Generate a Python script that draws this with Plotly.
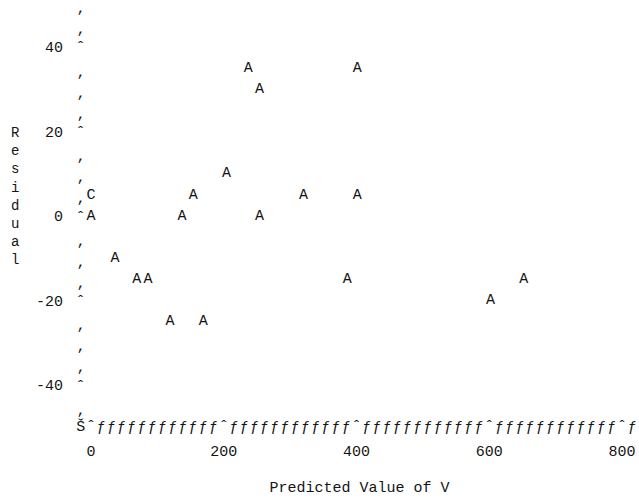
import plotly.graph_objects as go

# ---- data ----
predicted = [0, 0, 36, 69, 86, 119, 169, 137, 154, 204, 237, 254, 254, 320, 401, 401, 386, 602, 652]
residual = [5, 0, -10, -15, -15, -25, -25, 0, 5, 10, 35, 30, 0, 5, 35, 5, -15, -20, -15]
symbol = ["C", "A", "A", "A", "A", "A", "A", "A", "A", "A", "A", "A", "A", "A", "A", "A", "A", "A", "A"]

x_ticks = [0, 200, 400, 600, 800]
y_ticks = [-40, -20, 0, 20, 40]
x_title = "Predicted Value of V"
y_title = "Residual"

FONT = "Liberation Mono"
INK = "#141414"

# line-printer axis geometry (13 print columns per 200 units, 4 rows per 20 units)
col_w = (x_ticks[1] - x_ticks[0]) / 13.0
row_h = (y_ticks[1] - y_ticks[0]) / 4.0
y_lo = y_ticks[0] - 2 * row_h
y_hi = y_ticks[-1] + 2 * row_h
ncols = int(round((x_ticks[-1] - x_ticks[0]) / col_w)) + 1
x_axis_pos = x_ticks[0] - col_w

# vertical axis characters (as annotations so the low comma glyph can sit on its baseline)
annotations = []
k = 1
while y_lo + k * row_h <= y_hi + 1e-9:
    yy = y_lo + k * row_h
    is_tick = any(abs(yy - t) < 1e-6 for t in y_ticks)
    annotations.append(dict(x=x_axis_pos, y=yy, xref="x", yref="y", showarrow=False,
                            text="ˆ" if is_tick else "‚", xanchor="center", yanchor="middle",
                            yshift=-2 if is_tick else -4,
                            font=dict(family=FONT, size=15, color=INK)))
    k += 1

# horizontal axis characters
hx, ht = [x_axis_pos], ["Š"]
for c in range(ncols + 1):
    xx = x_ticks[0] + c * col_w
    hx.append(xx)
    ht.append("ˆ" if any(abs(xx - t) < 1e-6 for t in x_ticks) else "ƒ")

fig = go.Figure()
fig.add_trace(go.Scatter(x=hx, y=[y_lo] * len(hx), mode="text", text=ht,
                         textposition="middle center", cliponaxis=False,
                         textfont=dict(family=FONT, size=15, color=INK), hoverinfo="skip"))
fig.add_trace(go.Scatter(x=predicted, y=residual, mode="text", text=symbol,
                         textposition="middle center", cliponaxis=False,
                         textfont=dict(family=FONT, size=15, color=INK)))

annotations.append(dict(text="<br>".join(list(y_title)), xref="paper", yref="paper",
                        x=-0.115, y=0.545, xanchor="center", yanchor="middle", showarrow=False,
                        font=dict(family=FONT, size=14, color=INK), align="center"))

x0 = x_ticks[0] - 16.57
x1 = x_ticks[-1] + 25.6
fig.update_layout(
    width=639, height=500,
    margin=dict(l=80, r=0, t=0, b=68),
    paper_bgcolor="white", plot_bgcolor="white",
    showlegend=False,
    font=dict(family=FONT, size=15, color=INK),
    xaxis=dict(range=[x0, x1], tickvals=x_ticks, ticktext=[str(v) for v in x_ticks],
               showgrid=False, zeroline=False, showline=False, ticks="",
               ticklabelstandoff=8,
               title=dict(text=x_title, standoff=21, font=dict(family=FONT, size=15, color=INK))),
    yaxis=dict(range=[-51.1, 51.1], tickvals=y_ticks, ticktext=[str(v) for v in y_ticks],
               showgrid=False, zeroline=False, showline=False, ticks="",
               ticklabelstandoff=16),
    annotations=annotations,
)

fig.write_html("out.html")
